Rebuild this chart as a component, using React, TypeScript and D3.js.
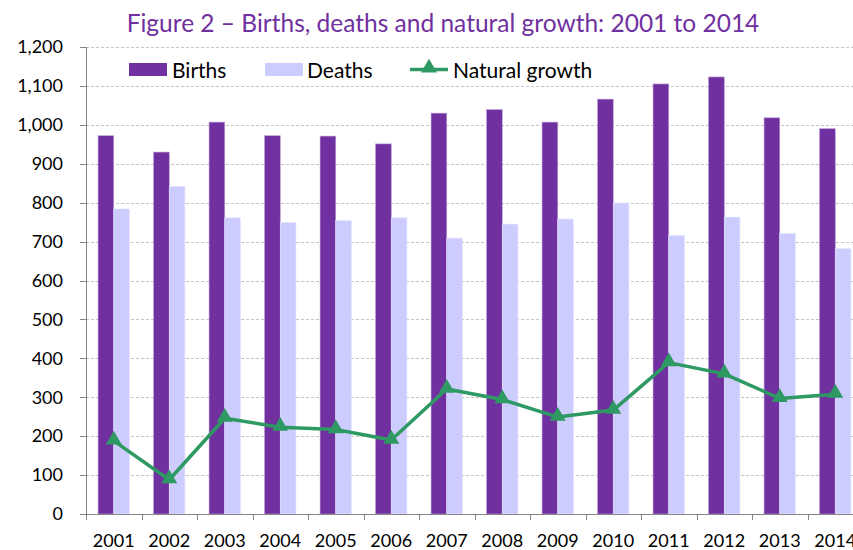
import React, { useEffect, useRef } from "react";
import * as d3 from "d3";

// chart values
const years = ["2001", "2002", "2003", "2004", "2005", "2006", "2007", "2008", "2009", "2010", "2011", "2012", "2013", "2014"];
const births = [972, 930, 1007, 972, 971, 951, 1030, 1039, 1007, 1066, 1105, 1123, 1018, 990];
const deaths = [784, 842, 761, 749, 754, 761, 709, 745, 758, 799, 716, 763, 721, 682];
const growth = [188, 88, 246, 223, 217, 190, 321, 294, 249, 267, 389, 360, 297, 308];
const yTicks = [0, 100, 200, 300, 400, 500, 600, 700, 800, 900, 1000, 1100, 1200];
const seriesNames = ["Births", "Deaths"];

const W = 853;
const H = 550;
const FONT = "Lato, 'Open Sans', sans-serif";

const App: React.FC = () => {
  const svgRef = useRef<SVGSVGElement | null>(null);

  useEffect(() => {
    if (!svgRef.current) return;
    const svg = d3.select(svgRef.current);
    svg.selectAll("*").remove();

    const left = 86;
    const top = 47;
    const bottom = 514;
    const step = 55.5;

    const x = d3.scaleBand<string>().domain(years).range([left, left + step * years.length]).padding(0);
    const x1 = d3.scaleBand<string>().domain(seriesNames).range([0, x.bandwidth()]).paddingInner(0).paddingOuter(0.77);
    const y = d3.scaleLinear().domain([0, 1200]).range([bottom, top]);

    svg.append("rect").attr("width", W).attr("height", H).attr("fill", "#fff");

    // gridlines
    svg.append("g")
      .selectAll("line")
      .data(yTicks.filter((t) => t > 0))
      .enter()
      .append("line")
      .attr("x1", left)
      .attr("x2", W)
      .attr("y1", (d) => Math.round(y(d)) + 0.5)
      .attr("y2", (d) => Math.round(y(d)) + 0.5)
      .attr("stroke", "#c4c4c4")
      .attr("stroke-dasharray", "3,2");

    // bars
    const colors: Record<string, string> = { Births: "#7030A0", Deaths: "#CCCCFF" };
    const groups = svg.append("g")
      .selectAll("g")
      .data(years)
      .enter()
      .append("g")
      .attr("transform", (d) => `translate(${x(d)},0)`);

    groups.each(function (yr, i) {
      const g = d3.select(this);
      const vals = [births[i], deaths[i]];
      seriesNames.forEach((s, j) => {
        g.append("rect")
          .attr("x", x1(s)!)
          .attr("y", y(vals[j]))
          .attr("width", x1.bandwidth())
          .attr("height", y(0) - y(vals[j]))
          .attr("fill", colors[s])
          .attr("stroke", j === 0 ? "#b89ad4" : "#e4e4ff")
          .attr("stroke-width", 0.6);
      });
    });

    // axes
    const axisColor = "#868686";
    svg.append("line")
      .attr("x1", left + 0.5).attr("x2", left + 0.5)
      .attr("y1", top).attr("y2", bottom)
      .attr("stroke", axisColor);
    svg.append("line")
      .attr("x1", left - 6).attr("x2", W)
      .attr("y1", bottom + 0.5).attr("y2", bottom + 0.5)
      .attr("stroke", axisColor);

    svg.append("g")
      .selectAll("line")
      .data(yTicks)
      .enter()
      .append("line")
      .attr("x1", left - 6).attr("x2", left)
      .attr("y1", (d) => Math.round(y(d)) + 0.5)
      .attr("y2", (d) => Math.round(y(d)) + 0.5)
      .attr("stroke", axisColor);

    svg.append("g")
      .selectAll("line")
      .data(years)
      .enter()
      .append("line")
      .attr("x1", (d) => Math.round(x(d)!) + 0.5)
      .attr("x2", (d) => Math.round(x(d)!) + 0.5)
      .attr("y1", bottom)
      .attr("y2", bottom + 6)
      .attr("stroke", axisColor);

    const fmt = d3.format(",");
    svg.append("g")
      .selectAll("text")
      .data(yTicks)
      .enter()
      .append("text")
      .attr("x", 63)
      .attr("y", (d) => y(d))
      .attr("dy", "0.35em")
      .attr("text-anchor", "end")
      .style("font-family", FONT)
      .style("font-size", "18px")
      .style("fill", "#000")
      .text((d) => fmt(d));

    svg.append("g")
      .selectAll("text")
      .data(years)
      .enter()
      .append("text")
      .attr("x", (d) => x(d)! + x.bandwidth() / 2)
      .attr("y", 547)
      .attr("text-anchor", "middle")
      .style("font-family", FONT)
      .style("font-size", "18px")
      .style("fill", "#000")
      .text((d) => d);

    // natural growth line
    const green = "#2E9963";
    const cx = (d: string) => x(d)! + x.bandwidth() / 2;
    const line = d3.line<number>()
      .x((_, i) => cx(years[i]))
      .y((d) => y(d));
    svg.append("path")
      .datum(growth)
      .attr("d", line)
      .attr("fill", "none")
      .attr("stroke", green)
      .attr("stroke-width", 3.5)
      .attr("stroke-linejoin", "round");

    const tri = d3.symbol().type(d3.symbolTriangle).size(110);
    svg.append("g")
      .selectAll("path")
      .data(growth)
      .enter()
      .append("path")
      .attr("d", tri)
      .attr("transform", (d, i) => `translate(${cx(years[i])},${y(d) - 1})`)
      .attr("fill", green);

    // legend
    const legend = svg.append("g").style("font-family", FONT).style("font-size", "21px");
    legend.append("rect").attr("x", 129).attr("y", 63).attr("width", 38).attr("height", 13).attr("fill", colors.Births);
    legend.append("text").attr("x", 172).attr("y", 78).text("Births");
    legend.append("rect").attr("x", 265).attr("y", 63).attr("width", 38).attr("height", 13).attr("fill", colors.Deaths);
    legend.append("text").attr("x", 307).attr("y", 78).text("Deaths");
    legend.append("line").attr("x1", 410).attr("x2", 448).attr("y1", 69.5).attr("y2", 69.5).attr("stroke", green).attr("stroke-width", 3.5);
    legend.append("path").attr("d", tri).attr("transform", "translate(429,68)").attr("fill", green);
    legend.append("text").attr("x", 453).attr("y", 78).text("Natural growth");

    // title
    svg.append("text")
      .attr("x", 443)
      .attr("y", 32)
      .attr("text-anchor", "middle")
      .style("font-family", FONT)
      .style("font-size", "24.5px")
      .style("fill", "#7030A0")
      .text("Figure 2 – Births, deaths and natural growth: 2001 to 2014");
  }, []);

  return (
    <svg
      ref={svgRef}
      width={W}
      height={H}
      style={{ position: "absolute", left: 0, top: 0, display: "block" }}
    />
  );
};

export default App;
